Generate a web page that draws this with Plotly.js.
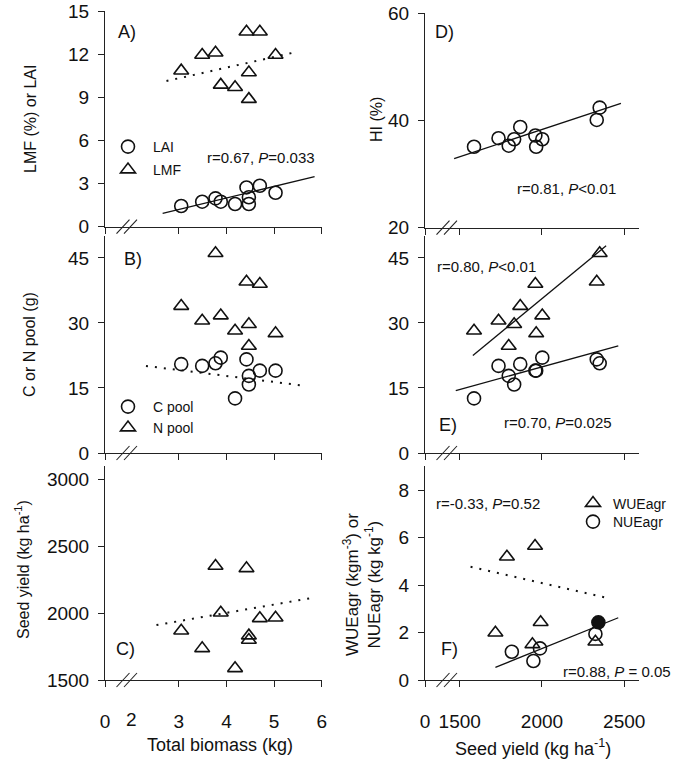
<!DOCTYPE html>
<html>
<head>
<meta charset="utf-8">
<script src="https://cdn.plot.ly/plotly-3.0.1.min.js"></script>
<style>html,body{margin:0;padding:0;background:#fff;}#chart{width:685px;height:765px;}</style>
</head>
<body>
<div id="chart"></div>
<script>
// ---------- DATA ----------
// ten plots, ordered by total biomass
const biomass   = [3.05, 3.49, 3.77, 3.88, 4.18, 4.42, 4.47, 4.47, 4.70, 5.03];   // kg
const seedYield = [1868, 1736, 2351, 2002, 1587, 2333, 1831, 1798, 1960, 1965];   // kg ha-1
const LAI       = [1.44, 1.74, 1.97, 1.74, 1.58, 2.73, 1.58, 2.05, 2.85, 2.36];
const LMF       = [10.85, 11.94, 12.10, 9.86, 9.70, 13.56, 10.72, 8.87, 13.56, 11.94]; // %
const Cpool     = [20.5, 20.1, 20.7, 22.0, 12.6, 21.6, 15.8, 17.8, 19.0, 19.0];   // g
const Npool     = [33.9, 30.5, 46.1, 31.7, 28.2, 39.5, 29.7, 24.7, 39.0, 27.6];   // g
const HI        = [38.8, 36.7, 42.4, 36.5, 35.1, 40.1, 36.5, 35.3, 37.2, 35.1];   // %

// panel F (agronomic efficiencies)
const wueYield  = [1717, 1787, 1958, 1942, 1992, 2325];
const WUEagr    = [1.99, 5.19, 5.64, 1.50, 2.43, 1.61];
const nueYield  = [1817, 1948, 1988, 2325, 2343];
const NUEagr    = [1.19, 0.80, 1.33, 1.94, 2.43];
const nueFilled = [false, false, false, false, true];

// fitted lines (end points)
const fitA_LAI_x = [2.66, 5.85],  fitA_LAI_y = [0.93, 3.48];
const fitA_LMF_x = [2.74, 5.40],  fitA_LMF_y = [10.13, 12.10];
const fitB_x     = [2.31, 5.64],  fitB_y     = [20.1, 15.5];
const fitC_x     = [2.53, 5.82],  fitC_y     = [1910, 2114];
const fitD_x     = [1466, 2480],  fitD_y     = [32.9, 43.2];
const fitE_N_x   = [1580, 2390],  fitE_N_y   = [22.5, 47.8];
const fitE_C_x   = [1476, 2464],  fitE_C_y   = [14.4, 24.7];
const fitF_W_x   = [1566, 2380],  fitF_W_y   = [4.77, 3.48];
const fitF_N_x   = [1717, 2464],  fitF_N_y   = [0.53, 2.62];

// tick labels
const leftXTickVals  = [1.45, 3, 4, 5, 6];
const leftXTickText  = ['0', '3', '4', '5', '6'];
const leftXExtraVal  = 2, leftXExtraText = '2';
const rightXTickVals = [1289, 1500, 2000, 2500];
const rightXTickText = ['0', '1500', '2000', '2500'];
const yTicksA = [0, 3, 6, 9, 12, 15];
const yTicksB = [0, 15, 30, 45];
const yTicksC = [1500, 2000, 2500, 3000];
const yTicksD = [20, 40, 60];
const yTicksE = [0, 15, 30, 45];
const yTicksF = [0, 2, 4, 6, 8];

// ---------- helpers ----------
const W = 685, H = 765;
const FONT = 'Liberation Sans, Arial, Helvetica, sans-serif';
const INK = '#111';
const px = x => x / W;
const py = y => 1 - y / H;
const clear = 'rgba(0,0,0,0)';

function pts(x, y, xa, ya, sym, name, legend, fill) {
  return {
    type: 'scatter', mode: 'markers', x: x, y: y, xaxis: xa, yaxis: ya,
    name: name || 'points', showlegend: !!legend, legend: legend || 'legend',
    marker: { symbol: sym, size: 13, color: fill || clear, line: { color: INK, width: 1.6 } },
    hoverinfo: 'x+y'
  };
}
function fit(x, y, xa, ya, dotted) {
  return {
    type: 'scatter', mode: 'lines', x: x, y: y, xaxis: xa, yaxis: ya, showlegend: false,
    name: 'fit',
    line: { color: INK, width: dotted ? 2 : 1.3, dash: dotted ? '2px,7px' : 'solid' },
    hoverinfo: 'skip'
  };
}

const data = [
  fit(fitA_LAI_x, fitA_LAI_y, 'x', 'y', false),
  fit(fitA_LMF_x, fitA_LMF_y, 'x', 'y', true),
  pts(biomass, LAI, 'x', 'y', 'circle', 'LAI', 'legend'),
  pts(biomass, LMF, 'x', 'y', 'triangle-up', 'LMF', 'legend2'),

  fit(fitB_x, fitB_y, 'x2', 'y2', true),
  pts(biomass, Cpool, 'x2', 'y2', 'circle', 'C pool', 'legend3'),
  pts(biomass, Npool, 'x2', 'y2', 'triangle-up', 'N pool', 'legend4'),

  fit(fitC_x, fitC_y, 'x3', 'y3', true),
  pts(biomass, seedYield, 'x3', 'y3', 'triangle-up'),

  fit(fitD_x, fitD_y, 'x4', 'y4', false),
  pts(seedYield, HI, 'x4', 'y4', 'circle'),

  fit(fitE_N_x, fitE_N_y, 'x5', 'y5', false),
  fit(fitE_C_x, fitE_C_y, 'x5', 'y5', false),
  pts(seedYield, Npool, 'x5', 'y5', 'triangle-up'),
  pts(seedYield, Cpool, 'x5', 'y5', 'circle'),

  fit(fitF_W_x, fitF_W_y, 'x6', 'y6', true),
  fit(fitF_N_x, fitF_N_y, 'x6', 'y6', false),
  pts(wueYield, WUEagr, 'x6', 'y6', 'triangle-up', 'WUEagr', 'legend5'),
  pts(nueYield, NUEagr, 'x6', 'y6', 'circle', 'NUEagr', 'legend6', nueFilled.map(f => f ? INK : clear))
];

// ---------- layout ----------
const TICKSIZE = 19;
const axBase = {
  showline: true, linecolor: '#222', linewidth: 1, mirror: false,
  ticks: 'outside', ticklen: 6, tickwidth: 1, tickcolor: '#222',
  showgrid: false, zeroline: false, fixedrange: true,
  tickfont: { family: FONT, size: TICKSIZE, color: INK }
};
const leftDom = [px(105), px(322)], rightDom = [px(425), px(639)];
const rowA = [py(226.7), py(11)], rowD = [py(227.7), py(13.3)];
const rowB = [py(453), py(236.3)];
const rowC = [py(680), py(465.6)], rowF = [py(680), py(466.25)];

function xax(dom, anchor, left, labels) {
  return Object.assign({}, axBase, {
    domain: dom, anchor: anchor,
    range: left ? [1.45, 6.005] : [1289, 2590],
    tickmode: 'array',
    tickvals: left ? leftXTickVals : rightXTickVals,
    ticktext: left ? leftXTickText : rightXTickText,
    showticklabels: labels, ticklabelstandoff: 18
  });
}
function yax(dom, anchor, range, ticks) {
  return Object.assign({}, axBase, {
    domain: dom, anchor: anchor, range: range,
    tickmode: 'array', tickvals: ticks, ticklabelstandoff: 5
  });
}

// break marks on every x axis (pixel positions are styling)
const shapes = [];
function brk(x0, yAxisPx) {
  [0, 7.5].forEach(dx => {
    shapes.push({ type: 'line', xref: 'paper', yref: 'paper',
      x0: px(x0 + dx), y0: py(yAxisPx + 7), x1: px(x0 + dx + 13), y1: py(yAxisPx - 7),
      line: { color: '#222', width: 1.1 } });
  });
}
brk(116.5, 226.7); brk(116.5, 453); brk(116.5, 680);
brk(436.5, 227.7); brk(436.5, 453); brk(436.5, 680);

function txt(text, x, y, size, opts) {
  return Object.assign({ text: text, xref: 'paper', yref: 'paper', x: px(x), y: py(y),
    showarrow: false, xanchor: 'center', yanchor: 'middle',
    font: { family: FONT, size: size, color: INK } }, opts || {});
}
const annotations = [
  // panel letters
  txt('A)', 127, 32, 18), txt('B)', 132.5, 259, 18), txt('C)', 125, 649, 18),
  txt('D)', 444.5, 32, 18), txt('E)', 447.5, 425, 18), txt('F)', 449.5, 649, 18),
  // statistics
  txt('r=0.67, <i>P</i>=0.033', 317, 157.5, 15, { xanchor: 'right' }),
  txt('r=0.81, <i>P</i>&lt;0.01', 618, 188.5, 15, { xanchor: 'right' }),
  txt('r=0.80, <i>P</i>&lt;0.01', 435, 266.5, 15, { xanchor: 'left' }),
  txt('r=0.70, <i>P</i>=0.025', 614, 422.5, 15, { xanchor: 'right' }),
  txt('r=-0.33, <i>P</i>=0.52', 434, 503.5, 15, { xanchor: 'left' }),
  txt('r=0.88, <i>P</i> = 0.05', 673, 671, 15, { xanchor: 'right' }),
  // extra tick label "2" on the broken biomass axis
  { text: leftXExtraText, xref: 'x3', yref: 'paper', x: leftXExtraVal, y: py(719),
    showarrow: false, xanchor: 'center', yanchor: 'middle', font: { family: FONT, size: TICKSIZE, color: INK } },
  // axis titles
  txt('LMF (%) or LAI', 30, 119, 16, { textangle: -90 }),
  txt('C or N pool (g)', 30, 345, 16, { textangle: -90 }),
  txt('Seed yield (kg ha<sup>-1</sup>)', 22, 570, 16, { textangle: -90 }),
  txt('HI (%)', 376, 120, 16, { textangle: -90 }),
  txt('WUEagr (kgm<sup>-3</sup>) or<br>NUEagr (kg kg<sup>-1</sup>)', 362, 585, 17, { textangle: -90 }),
  txt('Total biomass (kg)', 220, 745, 18),
  txt('Seed yield (kg ha<sup>-1</sup>)', 533, 747, 18)
];

const legBase = { bgcolor: clear, borderwidth: 0, itemwidth: 40,
  font: { family: FONT, size: 14, color: INK }, xanchor: 'left', yanchor: 'top' };
function leg(x, y, iw) { return Object.assign({}, legBase, { x: px(x), y: py(y), itemwidth: iw || 40 }); }

const layout = {
  width: W, height: H, margin: { l: 0, r: 0, t: 0, b: 0 },
  paper_bgcolor: '#fff', plot_bgcolor: 'rgba(0,0,0,0)',
  font: { family: FONT, color: INK },
  xaxis:  xax(leftDom, 'y', true, false),
  xaxis2: xax(leftDom, 'y2', true, false),
  xaxis3: xax(leftDom, 'y3', true, true),
  xaxis4: xax(rightDom, 'y4', false, false),
  xaxis5: xax(rightDom, 'y5', false, false),
  xaxis6: xax(rightDom, 'y6', false, true),
  yaxis:  yax(rowA, 'x', [0, 15], yTicksA),
  yaxis2: yax(rowB, 'x2', [0, 50], yTicksB),
  yaxis3: yax(rowC, 'x3', [1500, 3100], yTicksC),
  yaxis4: yax(rowD, 'x4', [20, 60], yTicksD),
  yaxis5: yax(rowB, 'x5', [0, 50], yTicksE),
  yaxis6: yax(rowF, 'x6', [0, 9], yTicksF),
  legend:  leg(103, 131),
  legend2: leg(103, 154),
  legend3: leg(103, 391),
  legend4: leg(103, 412),
  legend5: leg(573, 487.5, 30),
  legend6: leg(573, 506, 30),
  shapes: shapes,
  annotations: annotations,
  showlegend: true
};

Plotly.newPlot('chart', data, layout, { staticPlot: true, displayModeBar: false });
</script>
</body>
</html>
